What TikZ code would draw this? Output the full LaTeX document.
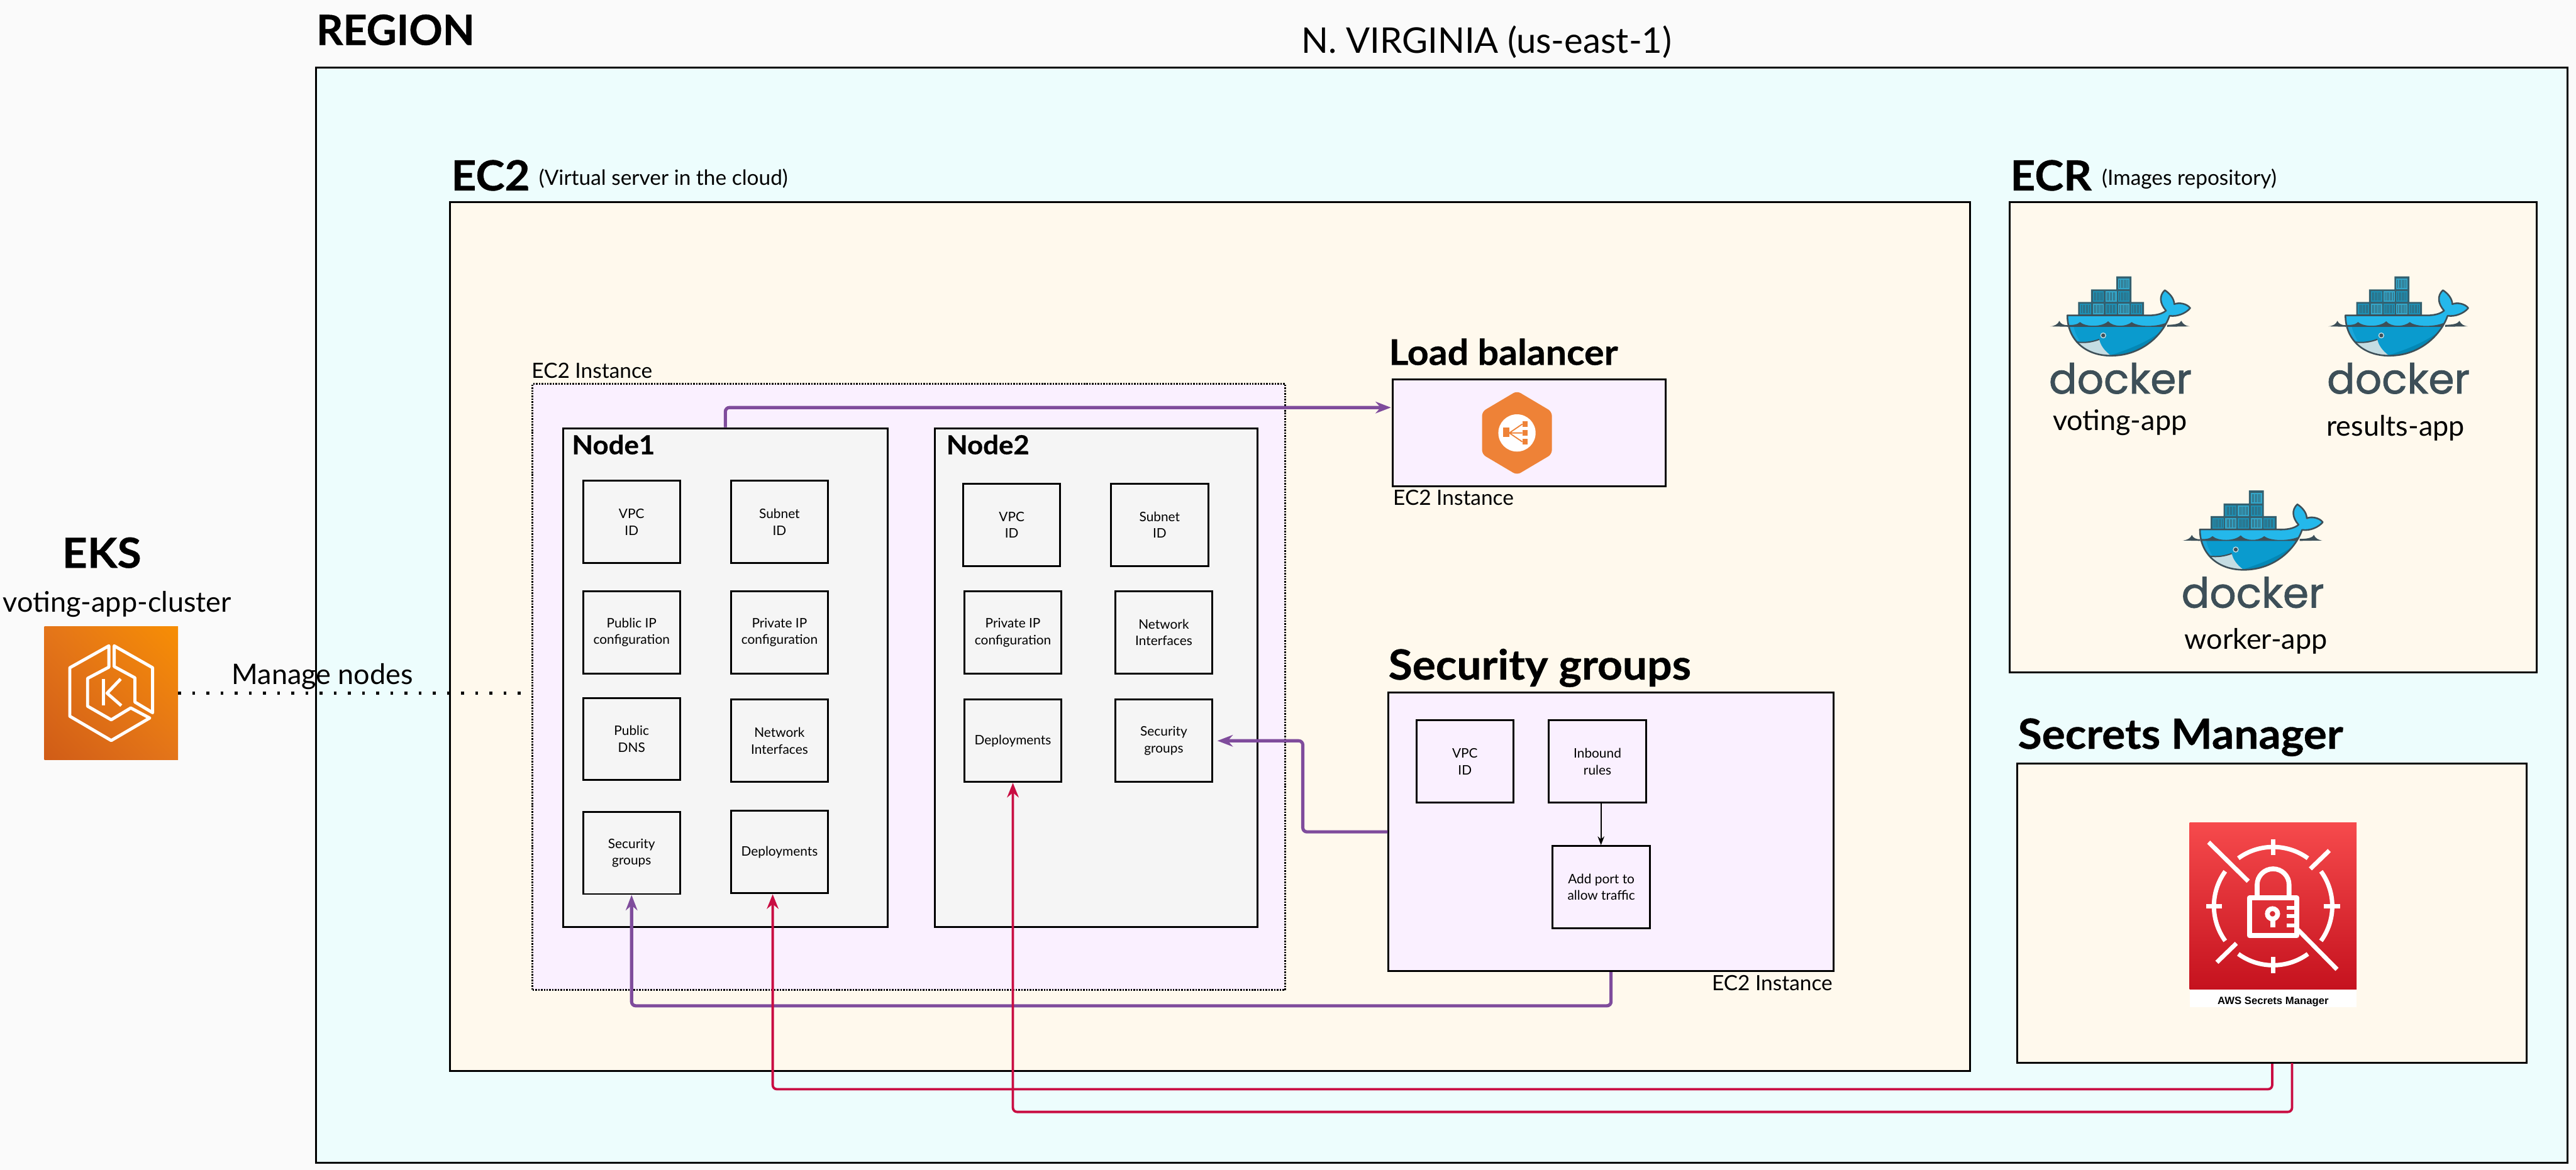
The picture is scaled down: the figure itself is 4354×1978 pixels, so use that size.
\documentclass[tikz,border=0pt]{standalone}
\usepackage{fontspec}
\setmainfont{Lato}
\newfontfamily\wordfont[FakeBold=1.2]{Poppins}
\newfontfamily\labelfont{Liberation Sans}
\usetikzlibrary{arrows.meta,fit,shadings}

\definecolor{pagebg}{HTML}{FAFAFA}
\definecolor{regionbg}{HTML}{EDFDFD}
\definecolor{creambg}{HTML}{FFF9ED}
\definecolor{lilacbg}{HTML}{FAF0FF}
\definecolor{greybg}{HTML}{F5F5F5}
\definecolor{linkpurple}{HTML}{7F4C9C}
\definecolor{linkred}{HTML}{C90D42}
\definecolor{hexorange}{HTML}{EE8237}
\definecolor{eksA}{HTML}{D05C17}
\definecolor{eksB}{HTML}{E4751A}
\definecolor{eksC}{HTML}{F78E04}
\definecolor{secretA}{HTML}{F64A4C}
\definecolor{secretB}{HTML}{C5121E}
\definecolor{dockerdark}{HTML}{3D4F58}
\definecolor{dockerback}{HTML}{34606F}
\definecolor{whalelight}{HTML}{24B8EB}
\definecolor{whalemid}{HTML}{0A9BCE}
\definecolor{whaleedge}{HTML}{1BA6DA}
\definecolor{whaledeep}{HTML}{0387B5}
\definecolor{jawgrey}{HTML}{C5DDE3}
\definecolor{cellA}{HTML}{1E8FB3}
\definecolor{cellB}{HTML}{33A6C9}

\newcommand{\whalepath}{(133,250) -- (530,250) .. controls (575,252) and (612,245) .. (634,226) .. controls (602,190) and (598,150) .. (628,122) .. controls (655,140) and (675,165) .. (676,193) .. controls (700,183) and (740,190) .. (757,213) .. controls (735,240) and (690,258) .. (652,252) .. controls (622,340) and (520,455) .. (355,455) .. controls (220,455) and (133,370) .. (133,250) -- cycle}
\newcommand{\headweight}{\bfseries\addfontfeature{FakeBold=0.6,FakeStretch=1.05}}

\tikzset{
    headtext/.style={font=\fontsize{20}{24}\selectfont\headweight, inner sep=0pt, anchor=base west},
    nametext/.style={font=\fontsize{13.6}{16}\selectfont, inner sep=0pt},
    smalltext/.style={font=\fontsize{10.1}{12}\selectfont, inner sep=0pt, anchor=base west},
    framebox/.style={draw=black, line width=0.9pt},
    groupbox/.style={framebox, inner sep=0pt, fit={#1}},
    cellbox/.style={framebox, inner sep=0pt, align=center, minimum width=1.64cm, minimum height=1.39cm, font=\fontsize{6.3}{8}\selectfont},
    purplelink/.style={draw=linkpurple, line width=1.55pt, rounded corners=2pt, -{Stealth[length=7.4pt,width=5.6pt]}},
    redlink/.style={draw=linkred, line width=1.15pt, rounded corners=2pt, -{Stealth[length=7pt,width=5.6pt]}},
    dockerlogo/.pic={
        \begin{scope}[x=0.003333cm,y=-0.003333cm]
            % Water line
            \fill[dockerdark] (45,306) .. controls (70,304) and (85,295) .. (92,278) .. controls (100,295) and (115,300) .. (135,300) -- (135,308) -- cycle;
            \fill[dockerdark] (755,306) .. controls (735,304) and (720,295) .. (712,278) .. controls (705,292) and (680,298) .. (640,298) -- (640,308) -- cycle;
            % Containers
            \fill[dockerback] (382,52) -- (458,52) -- (458,182) -- (522,182) -- (522,250) -- (188,250) -- (188,182) -- (253,182) -- (253,118) -- (382,118) -- cycle;
            \foreach \cx/\cy/\cc in {391/64/cellB,262/128/cellA,326/128/cellB,391/128/cellA,197/192/cellA,262/192/cellB,326/192/cellA,391/192/cellB,455/192/cellA}{
                \fill[\cc] (\cx,\cy) rectangle ++(57,53);
                \foreach \sx in {8,16,...,48}{
                    \draw[dockerback, line width=0.2pt] (\cx+\sx,\cy+6) -- (\cx+\sx,\cy+47);
                }
            }
            % Whale
            \fill[whalelight] \whalepath;
            \begin{scope}
                \clip \whalepath;
                \fill[whalemid] (100,305) rectangle (700,480);
                \fill[whaleedge] (120,305) -- (165,305) .. controls (170,340) and (190,370) .. (200,390) -- (120,420) -- cycle;
                \fill[whaledeep] (640,305) .. controls (560,380) and (450,420) .. (355,452) -- (500,480) -- (700,330) -- cycle;
                \fill[dockerdark] (120,297) .. controls (160,302) and (185,297) .. (197,284) .. controls (225,310) and (310,310) .. (340,280) .. controls (365,310) and (430,310) .. (460,284) .. controls (490,310) and (590,310) .. (640,285) -- (640,308) -- (120,308) -- cycle;
                \fill[jawgrey] (180,385) .. controls (220,392) and (260,385) .. (295,372) .. controls (300,400) and (320,430) .. (355,455) -- (200,455) -- cycle;
            \end{scope}
            \draw[dockerdark, line width=0.6pt] (180,385) .. controls (220,392) and (260,385) .. (295,372);
            \draw[dockerdark, line width=0.77pt, line join=round] \whalepath;
            % Eye
            \fill[jawgrey] (315,352) circle (15);
            \fill[dockerdark] (315,352) circle (10);
            % Word
            \node[inner sep=0pt, text=dockerdark, font=\wordfont\fontsize{20}{24}\selectfont] (-word) at (402,570) {docker};
        \end{scope}
    }
}

\begin{document}
\begin{tikzpicture}[x=0.01cm,y=-0.01cm]
    \useasboundingbox (0,0) rectangle (4354,1978);
    \fill[pagebg] (0,0) rectangle (4354,1978);

    % Region
    \draw[framebox, fill=regionbg] (534,114) rectangle (4340,1966);
    \node[headtext, font=\fontsize{20}{24}\selectfont\bfseries\addfontfeature{FakeBold=0.6}] (regiontitle) at (534,76) {REGION};
    \node[nametext, font=\fontsize{17}{20}\selectfont, anchor=base] (regionname) at (2513,90) {N. VIRGINIA (us-east-1)};

    % EC2
    \draw[framebox, fill=creambg] (761,342) rectangle (3330,1811);
    \node[headtext] (ectwotitle) at (762,322) {EC2};
    \node[smalltext] (ectwonote) at (910,313) {(Virtual server in the cloud)};

    % ECR
    \draw[framebox, fill=creambg] (3397,342) rectangle (4288,1137);
    \node[headtext] (ecrtitle) at (3397,322) {ECR};
    \node[smalltext] (ecrnote) at (3552,313) {(Images repository)};
    \pic (votinglogo) at (3450,450) {dockerlogo};
    \pic (resultslogo) at (3920,450) {dockerlogo};
    \pic (workerlogo) at (3674,812) {dockerlogo};
    \node[nametext, anchor=base] (votingname) at (3583,728) {voting-app};
    \node[nametext, anchor=base] (resultsname) at (4049,737) {results-app};
    \node[nametext, anchor=base] (workername) at (3813,1098) {worker-app};

    % Secrets Manager
    \node[groupbox={(3410,1291) (4271,1797)}, fill=creambg] (secretsbox) {};
    \node[headtext] (secretstitle) at (3410,1266) {Secrets Manager};
    \fill[white] (3701,1673) rectangle (3983,1703);
    \shade[top color=secretA, bottom color=secretB] (3701,1391) rectangle (3983,1673);
    \node[inner sep=0pt, anchor=base, font=\labelfont\bfseries\fontsize{5.05}{6}\selectfont] (secretslabel) at (3842,1698) {AWS Secrets Manager};
    \begin{scope}[white, line width=2.1pt]
        \foreach \a in {54,144,234,324}{
            \draw (3842,1532) ++(\a:100) arc (\a:\a+72:100);
        }
        \foreach \a in {0,90,180,270}{
            \draw (3842,1532) ++(\a:86) -- ++(\a:27);
        }
        \draw (3733,1424) -- (3800,1490);
        \draw (3884,1572) -- (3950,1639);
        \draw (3937,1438) -- (3905,1469);
        \draw (3780,1595) -- (3747,1627);
        % Lock
        \draw[line width=2.3pt, line join=round] (3802,1518) rectangle (3882,1582);
        \draw[line width=2.3pt] (3815,1518) -- (3815,1496) arc (180:360:27) -- (3869,1518);
        \draw[line width=2.3pt] (3841,1545) circle (8.7);
        \fill (3837,1553) rectangle (3846,1568);
        \foreach \ty in {1535,1549,1565}{
            \fill (3865,\ty-3) rectangle (3878,\ty+3);
        }
    \end{scope}

    % EC2 instance with the two worker nodes
    \node[groupbox={(900,649) (2172,1674)}, draw=black, line width=0.9pt, dash pattern=on 0.75pt off 0.6pt, fill=lilacbg] (instancebox) {};
    \node[smalltext] (instancelabel) at (898,639) {EC2 Instance};

    % Node1
    \node[groupbox={(952,724) (1500,1567)}, fill=greybg] (nodeone) {};
    \node[headtext, font=\fontsize{12.6}{15}\selectfont\headweight] (nodeonetitle) at (966,768) {Node1};
    \node[cellbox] (nodeonevpc) at (1067.5,882.5) {VPC\\ID};
    \node[cellbox] (nodeonesubnet) at (1317.5,882.5) {Subnet\\ID};
    \node[cellbox] (nodeonepublic) at (1067.5,1069) {Public IP\\configuration};
    \node[cellbox] (nodeoneprivate) at (1317.5,1069) {Private IP\\configuration};
    \node[cellbox] (nodeonedns) at (1067.5,1249.5) {Public\\DNS};
    \node[cellbox] (nodeonenet) at (1317.5,1252.5) {Network\\Interfaces};
    \node[cellbox] (nodeonesg) at (1067.5,1442) {Security\\groups};
    \node[cellbox] (nodeonedeploy) at (1317.5,1440.5) {Deployments};

    % Node2
    \node[groupbox={(1580,724) (2125,1567)}, fill=greybg] (nodetwo) {};
    \node[headtext, font=\fontsize{12.6}{15}\selectfont\headweight] (nodetwotitle) at (1599,768) {Node2};
    \node[cellbox] (nodetwovpc) at (1710,887.5) {VPC\\ID};
    \node[cellbox] (nodetwosubnet) at (1960,887.5) {Subnet\\ID};
    \node[cellbox] (nodetwoprivate) at (1712,1069.5) {Private IP\\configuration};
    \node[cellbox] (nodetwonet) at (1967,1069.5) {Network\\Interfaces};
    \node[cellbox] (nodetwodeploy) at (1712,1252.5) {Deployments};
    \node[cellbox] (nodetwosg) at (1967,1252.5) {Security\\groups};

    % Load balancer
    \node[groupbox={(2354,641) (2815,822)}, fill=lilacbg] (lbbox) {};
    \node[headtext, font=\fontsize{17}{20}\selectfont\headweight] (lbtitle) at (2347,617) {Load balancer};
    \node[smalltext] (lblabel) at (2354,854) {EC2 Instance};
    \fill[hexorange, rounded corners=2pt] (2564,661) -- (2623,696) -- (2623,768) -- (2564,803) -- (2505,768) -- (2505,696) -- cycle;
    \fill[white] (2564,732) circle (31.5);
    \begin{scope}[hexorange]
        \fill (2541,723) rectangle (2551,739);
        \fill (2573,712) rectangle (2582,722);
        \fill (2573,727) rectangle (2582,737);
        \fill (2573,742) rectangle (2582,751);
        \draw[line width=0.55pt] (2551,732) -- (2573,717) (2551,732) -- (2573,732) (2551,732) -- (2573,747);
    \end{scope}

    % Security groups
    \node[groupbox={(2347,1171) (3099,1642)}, fill=lilacbg] (sgbox) {};
    \node[headtext] (sgtitle) at (2346,1149) {Security groups};
    \node[smalltext, anchor=base east] (sglabel) at (3098,1675) {EC2 Instance};
    \node[cellbox] (sgvpc) at (2476,1287.5) {VPC\\ID};
    \node[cellbox] (sginbound) at (2700,1287.5) {Inbound\\rules};
    \node[cellbox] (sgport) at (2706.5,1500) {Add port to\\allow traffic};
    \coordinate (sginboundout) at (2706,1359);
    \draw[line width=0.6pt, -{Stealth[length=4.2pt,width=3.2pt]}] (sginboundout) -- (sginboundout |- sgport.north);

    % EKS
    \node[headtext, anchor=base] (ekstitle) at (172,960) {EKS};
    \node[nametext, anchor=base] (eksname) at (198,1035) {voting-app-cluster};
    \node[fit={(75,1059) (301,1285)}, inner sep=0pt, outer sep=0pt] (eksicon) {};
    \shade[lower left=eksA, upper right=eksC, lower right=eksB, upper left=eksB] (eksicon.south west) rectangle (eksicon.north east);
    \begin{scope}[white, line width=1.5pt, line join=round]
        \draw (184,1092) -- (118,1129) -- (118,1211) -- (188,1252) -- (253,1214) -- (221,1197) -- (188,1217) -- (148,1194) -- (148,1147) -- (184,1128) -- cycle;
        \draw (193,1092) -- (258,1129) -- (258,1205) -- (228,1187) -- (228,1146) -- (193,1127) -- cycle;
        \draw (175,1148) -- (175,1193);
        \draw (204,1148) -- (181,1172) -- (205,1193);
    \end{scope}
    \node[nametext, anchor=base west] (managelabel) at (391,1157) {Manage nodes};
    \draw[line width=1.4pt, dash pattern=on 1.4pt off 5.4pt] (eksicon.east) -- (eksicon.east -| instancebox.west);

    % Connections
    \coordinate (lbentry) at (2351,689);
    \coordinate (sgturn) at (2202,1300);
    \coordinate (deployentry) at (1306,1512);
    \coordinate (secretsouttwo) at (3874,1797);
    \draw[purplelink] (nodeone.north) |- (lbentry);
    \draw[purplelink, shorten >=2pt] (sgbox.west) -| (sgturn) |- (nodetwosg.east);
    \draw[purplelink] (sgbox.south) -- ++(0,57) -| (nodeonesg.south);
    \draw[redlink] (secretsbox.south) -- ++(0,43) -| (deployentry);
    \draw[redlink] (secretsouttwo) -- ++(0,83) -| (nodetwodeploy.south);
\end{tikzpicture}
\end{document}
